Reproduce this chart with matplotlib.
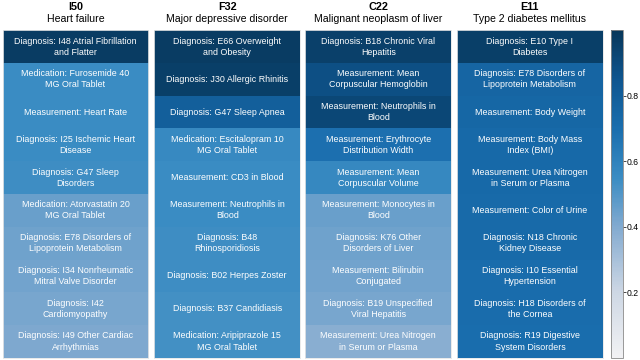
import matplotlib
matplotlib.use("Agg")
import numpy as np
import matplotlib.pyplot as plt
from matplotlib.colors import LinearSegmentedColormap

plt.rcParams["font.family"] = ["Liberation Sans", "DejaVu Sans"]

codes = ["I50", "F32", "C22", "E11"]
names = ["Heart failure", "Major depressive disorder",
         "Malignant neoplasm of liver", "Type 2 diabetes mellitus"]

labels_i50 = [
    "Diagnosis: I48 Atrial Fibrillation\nand Flatter",
    "Medication: Furosemide 40\nMG Oral Tablet",
    "Measurement: Heart Rate",
    "Diagnosis: I25 Ischemic Heart\nDisease",
    "Diagnosis: G47 Sleep\nDisorders",
    "Medication: Atorvastatin 20\nMG Oral Tablet",
    "Diagnosis: E78 Disorders of\nLipoprotein Metabolism",
    "Diagnosis: I34 Nonrheumatic\nMitral Valve Disorder",
    "Diagnosis: I42\nCardiomyopathy",
    "Diagnosis: I49 Other Cardiac\nArrhythmias",
]
labels_f32 = [
    "Diagnosis: E66 Overweight\nand Obesity",
    "Diagnosis: J30 Allergic Rhinitis",
    "Diagnosis: G47 Sleep Apnea",
    "Medication: Escitalopram 10\nMG Oral Tablet",
    "Measurement: CD3 in Blood",
    "Measurement: Neutrophils in\nBlood",
    "Diagnosis: B48\nRhinosporidiosis",
    "Diagnosis: B02 Herpes Zoster",
    "Diagnosis: B37 Candidiasis",
    "Medication: Aripiprazole 15\nMG Oral Tablet",
]
labels_c22 = [
    "Diagnosis: B18 Chronic Viral\nHepatitis",
    "Measurement: Mean\nCorpuscular Hemoglobin",
    "Measurement: Neutrophils in\nBlood",
    "Measurement: Erythrocyte\nDistribution Width",
    "Measurement: Mean\nCorpuscular Volume",
    "Measurement: Monocytes in\nBlood",
    "Diagnosis: K76 Other\nDisorders of Liver",
    "Measurement: Bilirubin\nConjugated",
    "Diagnosis: B19 Unspecified\nViral Hepatitis",
    "Measurement: Urea Nitrogen\nin Serum or Plasma",
]
labels_e11 = [
    "Diagnosis: E10 Type I\nDiabetes",
    "Diagnosis: E78 Disorders of\nLipoprotein Metabolism",
    "Measurement: Body Weight",
    "Measurement: Body Mass\nIndex (BMI)",
    "Measurement: Urea Nitrogen\nin Serum or Plasma",
    "Measurement: Color of Urine",
    "Diagnosis: N18 Chronic\nKidney Disease",
    "Diagnosis: I10 Essential\nHypertension",
    "Diagnosis: H18 Disorders of\nthe Cornea",
    "Diagnosis: R19 Digestive\nSystem Disorders",
]

scores_i50 = [0.97, 0.55, 0.55, 0.55, 0.54, 0.45, 0.44, 0.43, 0.42, 0.41]
scores_f32 = [0.97, 0.96, 0.79, 0.56, 0.55, 0.55, 0.54, 0.54, 0.53, 0.53]
scores_c22 = [0.95, 0.88, 0.92, 0.69, 0.57, 0.45, 0.44, 0.43, 0.42, 0.38]
scores_e11 = [0.96, 0.75, 0.74, 0.73, 0.73, 0.72, 0.72, 0.71, 0.71, 0.70]

all_labels = [labels_i50, labels_f32, labels_c22, labels_e11]
all_scores = [scores_i50, scores_f32, scores_c22, scores_e11]

cmap = LinearSegmentedColormap.from_list("bl", [
    (0.0, "#f2f2f4"), (0.2, "#cdd7e4"), (0.4, "#82aad0"), (0.55, "#3a8cc3"),
    (0.7, "#1a6eae"), (0.85, "#0f5690"), (1.0, "#08375a")])

fig = plt.figure(figsize=(6.4, 3.6), dpi=100)
lefts = [0.004, 0.241, 0.477, 0.714]
bottom, height, width = 0.006, 0.910, 0.228

for k in range(4):
    ax = fig.add_axes([lefts[k], bottom, width, height])
    vals = np.array(all_scores[k]).reshape(-1, 1)
    im = ax.imshow(vals, cmap=cmap, vmin=0, vmax=1, aspect="auto")
    for i, lab in enumerate(all_labels[k]):
        ax.text(0, i, lab, ha="center", va="center", color="white",
                fontsize=6.4, linespacing=1.3)
    ax.set_xticks([])
    ax.set_yticks([])
    for s in ax.spines.values():
        s.set_color("#e6e6e6")
        s.set_linewidth(0.6)
    cx = lefts[k] + width / 2
    fig.text(cx, 1 - 10.5 / 360, codes[k], ha="center", va="baseline",
             fontsize=7.8, fontweight="bold")
    fig.text(cx, 1 - 22 / 360, names[k], ha="center", va="baseline",
             fontsize=7.6)

cax = fig.add_axes([0.954, bottom, 0.019, height])
cb = fig.colorbar(im, cax=cax, ticks=[0.2, 0.4, 0.6, 0.8])
cb.ax.tick_params(labelsize=6.2, length=2, width=0.5, pad=1)
cb.outline.set_edgecolor("#888888")
cb.outline.set_linewidth(0.6)

fig.savefig("out.png", dpi=100)
